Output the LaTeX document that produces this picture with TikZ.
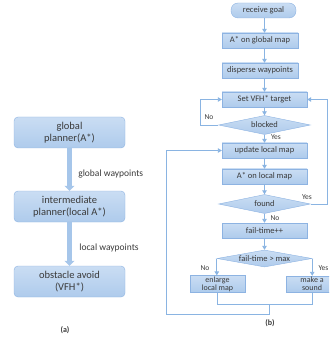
\documentclass[tikz,border=0pt]{standalone}
\usepackage{fontspec}
\setmainfont{Carlito}
\usetikzlibrary{shapes.geometric,arrows.meta,positioning,calc}
\definecolor{boxtop}{HTML}{CADDF3}
\definecolor{boxbot}{HTML}{AECBEC}
\definecolor{boxline}{HTML}{8DB3E2}
\definecolor{flowline}{HTML}{8AB4E2}
\definecolor{fatarrow}{HTML}{A6C6EA}
\definecolor{txt}{HTML}{3A3A3A}
\tikzset{
  bigbox/.style={draw=boxline, rounded corners=4pt, top color=boxtop, bottom color=boxbot,
    minimum width=111pt, minimum height=31pt, align=center, inner sep=1pt,
    font=\fontsize{10.5}{12.5}\selectfont},
  flowbox/.style={draw=boxline, top color=boxtop, bottom color=boxbot,
    minimum width=85pt, minimum height=15pt, inner sep=1pt, align=center},
  pill/.style={flowbox, rounded corners=7pt, minimum width=65pt},
  decision/.style={diamond, aspect=5, draw=boxline, top color=boxtop, bottom color=boxbot,
    minimum width=92pt, minimum height=19pt, inner sep=0pt},
  fat/.style={draw=fatarrow, line width=5pt, -{Triangle[length=5pt,width=10pt]}},
  line/.style={draw=flowline, line width=0.9pt},
  flow/.style={line, -{Triangle[length=4pt,width=4.5pt]}},
  lbl/.style={font=\fontsize{7.5}{8.5}\selectfont, inner sep=0pt},
}
\begin{document}
\begin{tikzpicture}[x=1pt,y=-1pt,font=\fontsize{8.5}{9.5}\selectfont,text=txt]
\useasboundingbox (0,0) rectangle (329,347);
\clip (0,0) rectangle (329,347);
% (a) three planners
\node[bigbox] (gp) at (69.5,132.5) {global\\planner(A*)};
\node[bigbox] (ip) at (69.5,206.5) {intermediate\\planner(local A*)};
\node[bigbox] (oa) at (69.5,281.5) {obstacle avoid\\(VFH*)};
\draw[fat] (gp.south) -- node[pos=0.6, right=3pt, font=\fontsize{9.5}{11}\selectfont] (gw) {global waypoints} (ip.north);
\draw[fat] (ip.south) -- node[pos=0.6, right=4pt, font=\fontsize{9.5}{11}\selectfont] (lw) {local waypoints} (oa.north);
\node[font=\fontsize{8}{9}\selectfont\bfseries] (capa) at (65,330) {(a)};
% (b) flow chart
\coordinate (spine) at (264.5,0);
\node[pill] (rg) at (263.5,10.5) {receive goal};
\node[flowbox, minimum width=76pt] (ag) at (260,40.5) {A* on global map};
\node[flowbox, minimum width=76pt] (dw) at (260,70.5) {disperse waypoints};
\node[flowbox] (sv) at (264.5,99.5) {Set VFH* target};
\node[decision] (bl) at (264.5,125) {blocked};
\node[flowbox] (ul) at (264.5,150.5) {update local map};
\node[flowbox] (al) at (264.5,176.5) {A* on local map};
\node[decision] (fd) at (264.5,204) {found};
\node[flowbox] (ft) at (264.5,230.5) {fail-time++};
\node[decision, minimum width=95pt, minimum height=17pt] (fm) at (264.5,258.5) {fail-time > max};
\node[flowbox, minimum width=55pt, minimum height=16pt, font=\fontsize{8}{8}\selectfont] (el) at (217.5,284) {enlarge\\local map};
\node[flowbox, minimum width=52pt, minimum height=16pt, font=\fontsize{8}{8}\selectfont] (ms) at (312,284) {make a\\sound};
% main line
\draw[flow] (rg.south -| spine) -- (ag.north -| spine);
\draw[flow] (ag.south -| spine) -- (dw.north -| spine);
\draw[flow] (dw.south -| spine) -- (sv.north -| spine);
\draw[flow] (sv) -- (bl);
\draw[flow] (bl) -- (ul);
\draw[flow] (ul) -- (al);
\draw[flow] (al) -- (fd);
\draw[flow] (fd) -- (ft);
\draw[flow] (ft) -- (fm);
% loops back
\draw[flow] (bl.west) -- ++(-18,0) |- (sv.west);
\draw[flow] (fd.east) -- ++(16.5,0) |- (sv.east);
\draw[flow] (fm.west) -- (fm.west |- el.north);
\draw[flow] (fm.east) -- (fm.east |- ms.north);
\coordinate (jn) at (269,304);
\draw[line] (el.south) -- (el.south |- jn) -| (ms.south);
\draw[flow] (jn) -- ++(0,10) -| ($(ul.west)+(-55,0)$) -- (ul.west);
% branch labels
\node[lbl] (no1) at (209,117) {No};
\node[lbl] (yes1) at (276,137) {Yes};
\node[lbl] (yes2) at (307,197) {Yes};
\node[lbl] (no2) at (275,218) {No};
\node[lbl] (no3) at (205,268) {No};
\node[lbl, anchor=east] (yes3) at (328.5,268) {Yes};
\node[font=\fontsize{8}{9}\selectfont\bfseries] (capb) at (270,323) {(b)};
\end{tikzpicture}
\end{document}
